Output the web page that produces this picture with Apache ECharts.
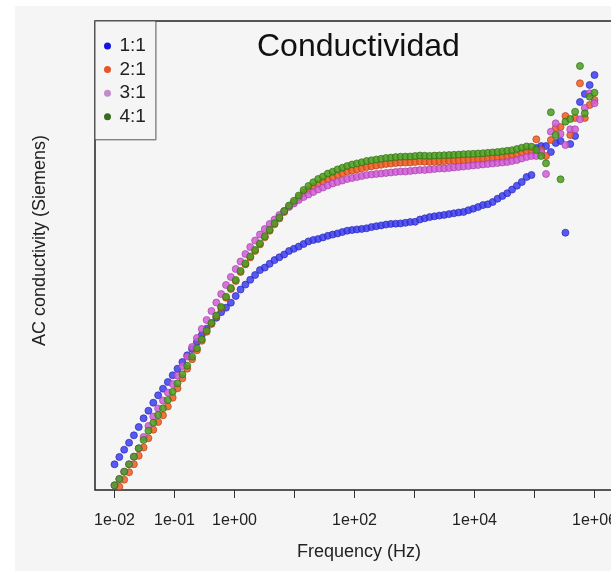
<!DOCTYPE html>
<html>
<head>
<meta charset="utf-8">
<title>Conductividad</title>
<script src="https://cdn.jsdelivr.net/npm/echarts@6/dist/echarts.min.js"></script>
<style>
  html, body { margin: 0; padding: 0; background: #fff; }
  #chart { width: 611px; height: 571px; }
</style>
</head>
<body>
<div id="chart"></div>
<script>
// frecuencias del barrido (Hz), 100 puntos entre 1e-2 y 1e6
var freq = [
  0.01, 0.01204, 0.0145, 0.01748, 0.02105, 0.02535, 0.03054, 0.03678, 0.04431, 0.05337,
  0.06428, 0.07743, 0.09326, 0.1123, 0.1353, 0.163, 0.1963, 0.2365, 0.2848, 0.3431,
  0.4132, 0.4977, 0.5995, 0.7221, 0.8697, 1.048, 1.262, 1.52, 1.831, 2.205,
  2.656, 3.199, 3.854, 4.642, 5.591, 6.735, 8.111, 9.77, 11.77, 14.17,
  17.07, 20.56, 24.77, 29.83, 35.94, 43.29, 52.14, 62.8, 75.64, 91.11,
  109.7, 132.2, 159.2, 191.8, 231, 278.3, 335.2, 403.7, 486.3, 585.7,
  705.5, 849.8, 1024, 1233, 1485, 1789, 2154, 2595, 3126, 3765,
  4535, 5462, 6579, 7925, 9546, 11498, 13849, 16681, 20092, 24201,
  29151, 35112, 42292, 50941, 61359, 73907, 89022, 107227, 129155, 155568,
  187382, 225702, 271859, 327455, 394421, 475081, 572237, 689261, 830218, 1000000
];

// log10 de la conductividad para cada proporcion
var cond11 = [
  -9.143, -9.07, -8.997, -8.927, -8.853, -8.77, -8.683, -8.607, -8.527, -8.453,
  -8.387, -8.32, -8.253, -8.187, -8.12, -8.053, -7.99, -7.92, -7.85, -7.787,
  -7.732, -7.678, -7.622, -7.577, -7.527, -7.46, -7.395, -7.346, -7.298, -7.25,
  -7.201, -7.176, -7.138, -7.101, -7.073, -7.045, -7.01, -6.988, -6.966, -6.94,
  -6.914, -6.9, -6.89, -6.874, -6.858, -6.846, -6.834, -6.82, -6.807, -6.8,
  -6.794, -6.789, -6.783, -6.771, -6.762, -6.754, -6.746, -6.739, -6.737, -6.734,
  -6.728, -6.72, -6.718, -6.695, -6.683, -6.671, -6.663, -6.656, -6.649, -6.641,
  -6.633, -6.625, -6.619, -6.602, -6.587, -6.57, -6.551, -6.543, -6.52, -6.487,
  -6.46, -6.432, -6.396, -6.357, -6.32, -6.27, -6.25, -5.98, -5.96, -5.96,
  -6.02, -5.93, -5.91, -6.827, -5.94, -5.86, -5.52, -5.44, -5.35, -5.25
];
var cond21 = [
  -9.42, -9.367, -9.297, -9.223, -9.142, -9.058, -8.975, -8.882, -8.797, -8.72,
  -8.653, -8.565, -8.477, -8.383, -8.283, -8.187, -8.092, -8.003, -7.908, -7.818,
  -7.74, -7.666, -7.58, -7.477, -7.39, -7.31, -7.22, -7.144, -7.074, -7.009,
  -6.944, -6.873, -6.808, -6.743, -6.685, -6.621, -6.565, -6.523, -6.475, -6.43,
  -6.4, -6.368, -6.34, -6.316, -6.291, -6.272, -6.249, -6.232, -6.215, -6.205,
  -6.194, -6.183, -6.17, -6.163, -6.155, -6.148, -6.14, -6.136, -6.131, -6.127,
  -6.126, -6.125, -6.12, -6.115, -6.117, -6.119, -6.116, -6.114, -6.112, -6.11,
  -6.108, -6.106, -6.102, -6.1, -6.098, -6.095, -6.092, -6.088, -6.084, -6.08,
  -6.074, -6.068, -6.057, -6.045, -6.027, -6.014, -6.012, -5.893, -6.0, -6.06,
  -5.9, -5.78, -5.77, -5.66, -5.85, -5.68, -5.333, -5.68, -5.55, -5.5
];
var cond31 = [
  -9.353, -9.29, -9.217, -9.143, -9.067, -8.983, -8.87, -8.76, -8.665, -8.585,
  -8.505, -8.425, -8.34, -8.255, -8.16, -8.065, -7.97, -7.88, -7.79, -7.7,
  -7.61, -7.525, -7.44, -7.35, -7.27, -7.19, -7.115, -7.04, -6.97, -6.905,
  -6.845, -6.79, -6.74, -6.695, -6.65, -6.61, -6.57, -6.535, -6.5, -6.47,
  -6.445, -6.42, -6.395, -6.375, -6.355, -6.335, -6.32, -6.305, -6.29, -6.28,
  -6.27, -6.26, -6.25, -6.245, -6.24, -6.235, -6.23, -6.225, -6.22, -6.215,
  -6.215, -6.21, -6.205, -6.2, -6.2, -6.195, -6.19, -6.185, -6.185, -6.18,
  -6.175, -6.17, -6.165, -6.16, -6.155, -6.15, -6.145, -6.14, -6.135, -6.13,
  -6.125, -6.12, -6.11, -6.1, -6.085, -6.07, -6.06, -6.06, -6.02, -6.24,
  -5.817, -5.733, -5.84, -5.95, -5.793, -5.793, -5.693, -5.58, -5.433, -5.533
];
var cond41 = [
  -9.353, -9.29, -9.217, -9.143, -9.067, -8.983, -8.9, -8.807, -8.727, -8.65,
  -8.583, -8.5, -8.417, -8.333, -8.243, -8.157, -8.067, -7.983, -7.893, -7.808,
  -7.73, -7.656, -7.57, -7.467, -7.38, -7.3, -7.21, -7.134, -7.064, -6.999,
  -6.934, -6.863, -6.798, -6.733, -6.675, -6.611, -6.555, -6.508, -6.455, -6.4,
  -6.36, -6.323, -6.29, -6.266, -6.236, -6.217, -6.194, -6.177, -6.16, -6.145,
  -6.134, -6.123, -6.11, -6.103, -6.095, -6.088, -6.08, -6.076, -6.071, -6.067,
  -6.066, -6.065, -6.06, -6.055, -6.057, -6.059, -6.056, -6.054, -6.052, -6.05,
  -6.048, -6.046, -6.042, -6.04, -6.038, -6.035, -6.032, -6.028, -6.024, -6.02,
  -6.014, -6.008, -6.002, -5.99, -5.977, -5.964, -5.967, -6.0, -6.06, -6.133,
  -5.623, -5.85, -6.293, -5.717, -5.69, -5.617, -5.16, -5.633, -5.467, -5.427
];

var nombres = ['1:1', '2:1', '3:1', '4:1'];
var datos = [cond11, cond21, cond31, cond41];
var colores = ['#3c3cf2', '#f05a22', '#d25cd8', '#4a9e1e'];
var bordes = ['#2626b0', '#b5400f', '#a03ea8', '#2f6c10'];
var coloresLeyenda = ['#1414e0', '#e8532c', '#c08ccc', '#3a6a20'];
var ticksX = [-2, -1, 0, 1, 2, 3, 4, 5, 6];
var etiquetasX = [-2, -1, 0, 2, 4, 6];

var fuente = 'Liberation Sans, Arial, sans-serif';

function etiqueta(v) {
  var a = Math.abs(v);
  return '1e' + (v < 0 ? '-' : '+') + (a < 10 ? '0' : '') + a;
}

var series = [];
for (var s = 0; s < nombres.length; s++) {
  var pts = [];
  for (var i = 0; i < freq.length; i++) {
    pts.push([Math.log10(freq[i]), datos[s][i]]);
  }
  series.push({
    name: nombres[s],
    type: 'scatter',
    symbol: 'circle',
    symbolSize: 7,
    data: pts,
    itemStyle: { color: colores[s], borderColor: bordes[s], borderWidth: 0.8, opacity: 0.85 },
    emphasis: { disabled: true }
  });
}

var chart = echarts.init(document.getElementById('chart'));
chart.setOption({
  animation: false,
  backgroundColor: '#ffffff',
  graphic: [{
    type: 'rect', left: 15, top: 6, z: -10,
    shape: { width: 596, height: 565 },
    style: { fill: '#f5f5f5' }
  }],
  title: {
    text: 'Conductividad',
    left: 257, top: 31, padding: 0,
    textStyle: { fontSize: 32, fontWeight: 'normal', color: '#111', fontFamily: fuente }
  },
  legend: {
    orient: 'vertical',
    left: 95, top: 21,
    padding: [15, 10, 13, 9],
    itemGap: 3.6,
    itemWidth: 14, itemHeight: 7,
    icon: 'circle',
    selectedMode: false,
    borderColor: '#555', borderWidth: 1,
    backgroundColor: '#f5f5f5',
    textStyle: { fontSize: 19, lineHeight: 20, color: '#222', fontFamily: fuente },
    data: nombres.map(function (n, k) {
      return { name: n, itemStyle: { color: coloresLeyenda[k], borderWidth: 0, opacity: 1 } };
    })
  },
  grid: {
    left: 95, top: 21, width: 518, height: 469,
    show: true, borderColor: '#222', borderWidth: 1.5,
    backgroundColor: '#f5f5f5',
    outerBoundsMode: 'none'
  },
  xAxis: {
    type: 'value',
    min: -2.325, max: 6.3083,
    name: 'Frequency (Hz)',
    nameLocation: 'middle',
    nameGap: 53,
    nameTextStyle: { fontSize: 18, color: '#222', fontFamily: fuente, padding: [0, 0, 0, 10] },
    axisLine: { show: false },
    axisTick: { show: true, inside: false, length: 8, customValues: ticksX, lineStyle: { color: '#333', width: 1 } },
    axisLabel: { customValues: etiquetasX, formatter: etiqueta, margin: 23, fontSize: 16, color: '#222', fontFamily: fuente },
    splitLine: { show: false }
  },
  yAxis: {
    type: 'value',
    min: -9.4, max: -4.71,
    name: 'AC conductivity (Siemens)',
    nameLocation: 'middle',
    nameGap: 46,
    nameTextStyle: { fontSize: 18, color: '#222', fontFamily: fuente, padding: [0, 0, 0, 30] },
    axisLine: { show: false },
    axisTick: { show: false },
    axisLabel: { show: false },
    splitLine: { show: false }
  },
  series: series
});
</script>
</body>
</html>
